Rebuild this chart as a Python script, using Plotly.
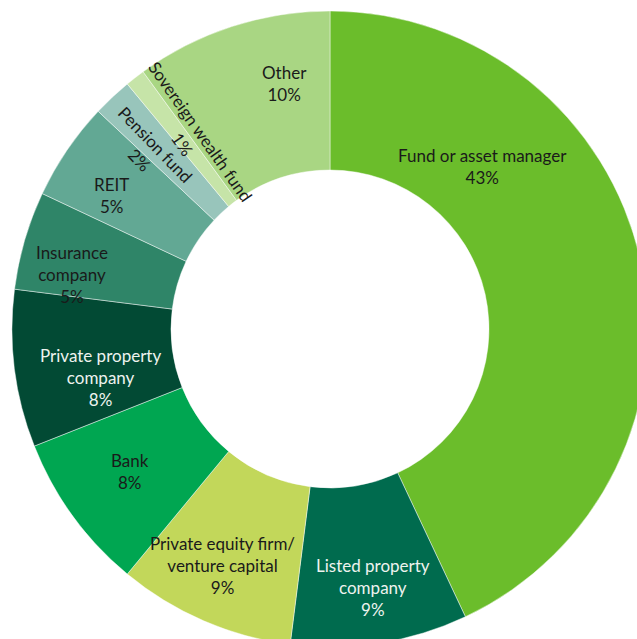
import plotly.graph_objects as go

# Share of respondents by investor type (clockwise from 12 o'clock)
labels = [
    "Fund or asset manager",
    "Listed property company",
    "Private equity firm/ venture capital",
    "Bank",
    "Private property company",
    "Insurance company",
    "REIT",
    "Pension fund",
    "Sovereign wealth fund",
    "Other",
]
values = [43, 9, 9, 8, 8, 5, 5, 2, 1, 10]

# Line-broken versions of the labels as they are printed on the ring
label_lines = [
    "Fund or asset manager",
    "Listed property<br>company",
    "Private equity firm/<br>venture capital",
    "Bank",
    "Private property<br>company",
    "Insurance<br>company",
    "REIT",
    "Pension fund",
    "Sovereign wealth fund",
    "Other",
]

colors = [
    "#6bbd2b", "#006b4e", "#c2d75a", "#00a651", "#024a34",
    "#2f8568", "#62a894", "#98c5bb", "#c6e4a8", "#a9d683",
]
text_colors = [
    "#1a1a1a", "#eef3ef", "#1a1a1a", "#1a1a1a", "#eef3ef",
    "#1a1a1a", "#1a1a1a", "#1a1a1a", "#1a1a1a", "#1a1a1a",
]

# Canvas is a bit larger than the viewport so the ring runs off the right/bottom edge
W, H = 660, 680
CX, CY, R = 330, 329, 318


def px(x, y):
    return x / W, 1 - y / H


# Label placement in pixels (centre of text block) and rotation
label_pos = [
    (482, 166, 0), (373, 587, 0), (222, 565, 0), (130, 471, 0), (100, 377, 0),
    (72, 274, 0), (111, 196, 0), (148, 152, 46), (191, 138, 55), (284, 83, 0),
]

fig = go.Figure(
    go.Pie(
        labels=labels,
        values=values,
        sort=False,
        direction="clockwise",
        rotation=0,
        hole=0.5,
        marker=dict(colors=colors, line=dict(color="rgba(255,255,255,0.45)", width=1)),
        textinfo="none",
        showlegend=False,
        domain=dict(x=[(CX - R) / W, (CX + R) / W], y=[1 - (CY + R) / H, 1 - (CY - R) / H]),
    )
)

annotations = []
for lab, val, (x, y, ang), tc in zip(label_lines, values, label_pos, text_colors):
    ax, ay = px(x, y)
    annotations.append(
        dict(
            text=f"{lab}<br>{val}%",
            x=ax, y=ay, xref="paper", yref="paper",
            xanchor="center", yanchor="middle",
            showarrow=False, textangle=ang,
            font=dict(family="Lato", size=17, color=tc),
        )
    )

sx, sy = px(20, 634)
annotations.append(
    dict(
        text="Investor Survey 2014",
        x=sx, y=sy, xref="paper", yref="paper",
        xanchor="left", yanchor="top", showarrow=False,
        font=dict(family="Lato", size=13, color="#333333"),
    )
)

fig.update_layout(
    width=W, height=H,
    margin=dict(l=0, r=0, t=0, b=0),
    paper_bgcolor="white",
    annotations=annotations,
)

fig.write_html(
    "out.html",
    post_script="document.documentElement.style.overflow='hidden';document.body.style.overflow='hidden';document.body.style.margin='0';",
)
